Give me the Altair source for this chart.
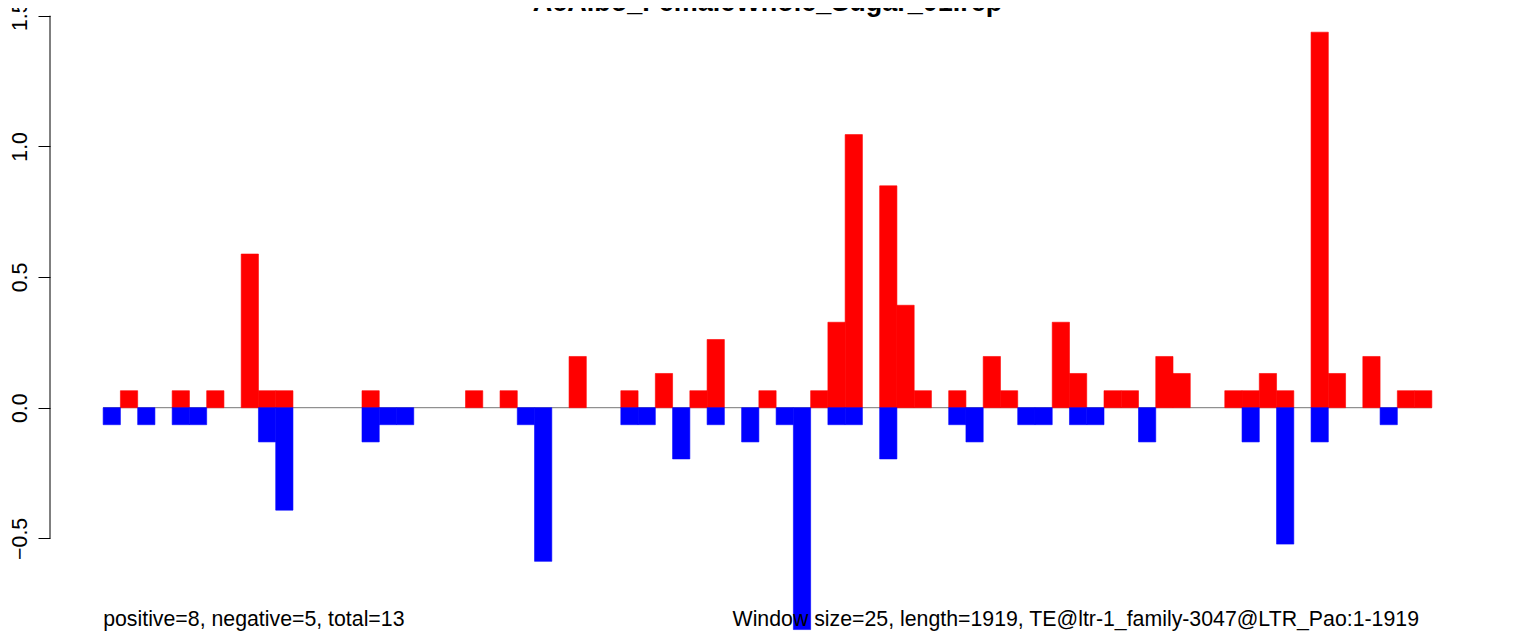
import altair as alt
import pandas as pd

# ---- data ----
pos_values = [0, 0.065, 0, 0, 0.065, 0, 0.065, 0, 0.588, 0.065,
              0.065, 0, 0, 0, 0, 0.065, 0, 0, 0, 0,
              0, 0.065, 0, 0.065, 0, 0, 0, 0.196, 0, 0,
              0.065, 0, 0.131, 0, 0.065, 0.261, 0, 0, 0.065, 0,
              0, 0.065, 0.327, 1.045, 0, 0.849, 0.392, 0.065, 0, 0.065,
              0, 0.196, 0.065, 0, 0, 0.327, 0.131, 0, 0.065, 0.065,
              0, 0.196, 0.131, 0, 0, 0.065, 0.065, 0.131, 0.065, 0,
              1.437, 0.131, 0, 0.196, 0, 0.065, 0.065]
neg_values = [-0.065, 0, -0.065, 0, -0.065, -0.065, 0, 0, 0, -0.131,
              -0.392, 0, 0, 0, 0, -0.131, -0.065, -0.065, 0, 0,
              0, 0, 0, 0, -0.065, -0.588, 0, 0, 0, 0,
              -0.065, -0.065, 0, -0.196, 0, -0.065, 0, -0.131, 0, -0.065,
              -0.849, 0, -0.065, -0.065, 0, -0.196, 0, 0, 0, -0.065,
              -0.131, 0, 0, -0.065, -0.065, 0, -0.065, -0.065, 0, 0,
              -0.131, 0, 0, 0, 0, 0, -0.131, 0, -0.522, 0,
              -0.131, 0, 0, 0, -0.065, 0, 0]
y_ticks = [-0.5, 0.0, 0.5, 1.0, 1.5]
title_text = "AcAlbo_FemaleWhole_Sugar_01.rep"
left_note = "positive=8, negative=5, total=13"
right_note = "Window size=25, length=1919, TE@ltr-1_family-3047@LTR_Pao:1-1919"

FONT = "Liberation Sans"
FS = 21.3

rows = []
for i, v in enumerate(pos_values):
    if v != 0:
        rows.append({"win": i, "value": v, "sign": "pos"})
for i, v in enumerate(neg_values):
    if v != 0:
        rows.append({"win": i, "value": v, "sign": "neg"})
bars_df = pd.DataFrame(rows)

n_win = len(pos_values)
pad = 0.04 * n_win
x_scale = alt.Scale(domain=[-pad, n_win + pad], nice=False, zero=False)
y_scale = alt.Scale(domain=[-0.8736, 1.5295], nice=False, zero=False)

W, H = 1435, 628

zero_df = pd.DataFrame({"x": [0], "x2": [n_win], "y": [0]})
zero_line = alt.Chart(zero_df).mark_rule(color="#777777", strokeWidth=1).encode(
    x=alt.X("x:Q", scale=x_scale, axis=None),
    x2="x2:Q",
    y=alt.Y("y:Q", scale=y_scale,
            axis=alt.Axis(values=y_ticks, format=".1f", title=None, domain=False,
                          grid=False, ticks=True, tickSize=12, tickColor="black",
                          tickWidth=1, labelFont=FONT, labelFontSize=FS,
                          labelColor="black", labelAngle=270, labelAlign="center",
                          labelBaseline="alphabetic", labelPadding=12,
                          labelFlush=False, labelOverlap=False)),
)

sign_scale = alt.Scale(domain=["pos", "neg"], range=["#FF0000", "#0000FF"])
bars = alt.Chart(bars_df).transform_calculate(
    start="datum.win", end="datum.win + 1", base="0"
).mark_rect(strokeWidth=0.6).encode(
    x=alt.X("start:Q", scale=x_scale, axis=None),
    x2="end:Q",
    y=alt.Y("value:Q", scale=y_scale),
    y2="base:Q",
    color=alt.Color("sign:N", scale=sign_scale, legend=None),
    stroke=alt.Stroke("sign:N", scale=sign_scale, legend=None),
)

axis_df = pd.DataFrame({"lo": [min(y_ticks)], "hi": [max(y_ticks)]})
axis_line = alt.Chart(axis_df).mark_rule(color="black", strokeWidth=1).encode(
    x=alt.value(0),
    y=alt.Y("lo:Q", scale=y_scale),
    y2="hi:Q",
)

title_mark = alt.Chart(pd.DataFrame({"t": [title_text]})).mark_text(
    font=FONT, fontSize=27, fontWeight="bold", align="center",
    baseline="alphabetic", color="black"
).encode(x=alt.value(717.5), y=alt.value(3), text="t:N")

left_mark = alt.Chart(pd.DataFrame({"t": [left_note], "x": [0]})).mark_text(
    font=FONT, fontSize=FS, align="left", baseline="alphabetic", color="black"
).encode(x=alt.X("x:Q", scale=x_scale), y=alt.value(618), text="t:N")

right_mark = alt.Chart(pd.DataFrame({"t": [right_note]})).mark_text(
    font=FONT, fontSize=FS, align="right", baseline="alphabetic", color="black"
).encode(x=alt.value(1369), y=alt.value(618), text="t:N")

chart = alt.layer(zero_line, bars, axis_line, title_mark, left_mark, right_mark).properties(
    width=W, height=H,
    autosize=alt.AutoSizeParams(type="none"),
    padding={"left": 42, "top": 0, "right": 10, "bottom": 0},
).configure(background="white").configure_view(stroke=None, strokeWidth=0)

chart.save("out.html", embed_options={"renderer": "svg", "actions": False})
